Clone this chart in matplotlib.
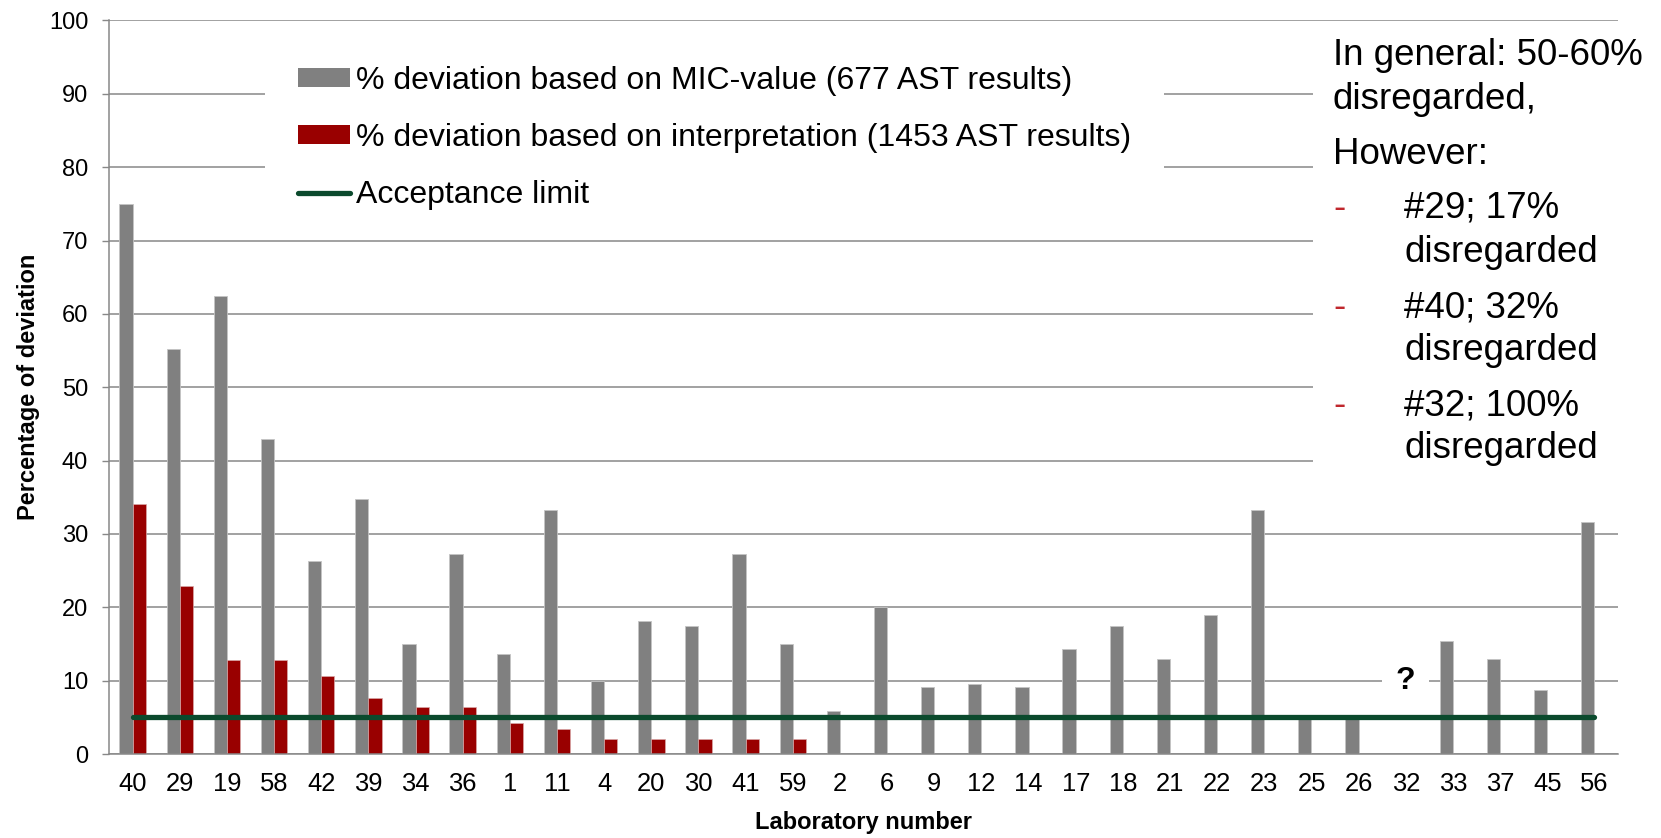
import matplotlib
matplotlib.use("Agg")
import matplotlib.pyplot as plt
from matplotlib.patches import Patch, Rectangle
from matplotlib.lines import Line2D
import numpy as np

plt.rcParams['font.family'] = ['Liberation Sans', 'DejaVu Sans']

labs = ['40', '29', '19', '58', '42', '39', '34', '36', '1', '11', '4', '20', '30', '41', '59',
        '2', '6', '9', '12', '14', '17', '18', '21', '22', '23', '25', '26', '32', '33', '37',
        '45', '56']
mic_dev = [75.0, 55.2, 62.5, 42.9, 26.3, 34.8, 15.0, 27.3, 13.6, 33.3, 10.0, 18.2, 17.4, 27.3,
           15.0, 5.9, 20.0, 9.1, 9.5, 9.1, 14.3, 17.4, 13.0, 19.0, 33.3, 5.0, 5.0, 0.0, 15.4,
           13.0, 8.7, 31.6]
interp_dev = [34.1, 22.9, 12.8, 12.8, 10.6, 7.7, 6.4, 6.4, 4.2, 3.4, 2.1, 2.1, 2.1, 2.1, 2.1,
              0, 0, 0, 0, 0, 0, 0, 0, 0, 0, 0, 0, 0, 0, 0, 0, 0]
limit = 5
unknown_lab = '32'

right_lines = [
    ('', 'In general: 50-60%'),
    ('', 'disregarded,'),
    ('', 'However:'),
    ('-', '#29; 17%'),
    ('', 'disregarded'),
    ('-', '#40; 32%'),
    ('', 'disregarded'),
    ('-', '#32; 100%'),
    ('', 'disregarded'),
]

W, H = 1661, 838
fig = plt.figure(figsize=(W / 100, H / 100), dpi=100)
ax = fig.add_axes([109 / W, 1 - 754 / H, 1509 / W, (754 - 20.5) / H])

grey = '#808080'
red = '#990000'
green = '#0b4a2d'
gridc = '#888888'

x = np.arange(len(labs))
bw = 0.28
ax.bar(x - bw / 2, mic_dev, bw, color=grey, edgecolor='#c4c4c4', linewidth=0.6, zorder=2)
ax.bar(x + bw / 2, interp_dev, bw, color=red, edgecolor='#d8a8a8', linewidth=0.5, zorder=2)
ax.plot([x[0], x[-1]], [limit, limit], color=green, lw=3.8, solid_capstyle='round', zorder=3)

ax.set_xlim(-0.5, len(labs) - 0.5)
ax.set_ylim(0, 100)
ax.set_yticks(range(0, 101, 10))
ax.set_xticks(x)
ax.set_xticklabels(labs)
ax.tick_params(axis='x', length=0, pad=13, labelsize=18.4)
ax.tick_params(axis='y', length=5, width=1, color=gridc, pad=10, labelsize=17)
ax.grid(axis='y', color=gridc, lw=1.1)
ax.set_axisbelow(True)
for s in ['top', 'right']:
    ax.spines[s].set_visible(False)
for s in ['left', 'bottom']:
    ax.spines[s].set_color(gridc)
    ax.spines[s].set_linewidth(1.1)

ax.set_xlabel('Laboratory number', fontsize=17, fontweight='bold')
ax.xaxis.set_label_coords(0.5, -0.078)
ax.set_ylabel('Percentage of deviation', fontsize=17, fontweight='bold')
ax.yaxis.set_label_coords(-0.046, 0.5)

# white boxes hiding gridlines behind legend and the note
ax.add_patch(Rectangle((0.1034, 72), 0.5956, 27.3, transform=ax.get_yaxis_transform(),
                       facecolor='white', edgecolor='none', zorder=1))
ax.add_patch(Rectangle((0.798, 36), 0.21, 63.3, transform=ax.get_yaxis_transform(),
                       facecolor='white', edgecolor='none', zorder=1, clip_on=False))

qi = labs.index(unknown_lab)
ax.text(x[qi], 10, '?', ha='center', va='center', fontsize=23, fontweight='bold', zorder=4,
        bbox=dict(facecolor='white', edgecolor='none', pad=10))

handles = [Patch(facecolor=grey, edgecolor='none'),
           Patch(facecolor=red, edgecolor='none'),
           Line2D([], [], color=green, lw=3.8, solid_capstyle='round')]
names = ['% deviation based on MIC-value (677 AST results)',
         '% deviation based on interpretation (1453 AST results)',
         'Acceptance limit']
fig.legend(handles, names, loc='upper left', bbox_to_anchor=(298 / W, 1 - 66 / H),
           frameon=False, fontsize=23, handlelength=1.63, handleheight=0.53,
           handletextpad=0.19, labelspacing=0.85, borderpad=0, borderaxespad=0)

baselines = [65, 109, 164, 218, 262, 317, 360, 415, 458]
for (dash, txt), yb in zip(right_lines, baselines):
    if dash:
        fig.text(1333 / W, 1 - yb / H, dash, color='#c0272d', fontsize=26.5, va='baseline')
        fig.text(1404 / W, 1 - yb / H, txt, fontsize=26.5, va='baseline')
    elif txt.startswith('disregarded') and yb > 200:
        fig.text(1404 / W, 1 - yb / H, txt, fontsize=26.5, va='baseline')
    else:
        fig.text(1333 / W, 1 - yb / H, txt, fontsize=26.5, va='baseline')

fig.savefig('out.png', dpi=100)
